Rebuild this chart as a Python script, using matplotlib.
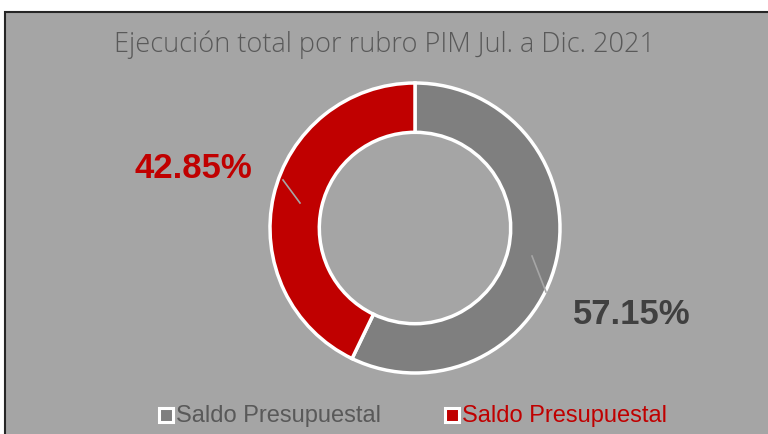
import matplotlib.pyplot as plt
from matplotlib.patches import Rectangle
import numpy as np

categories = ["Saldo Presupuestal", "Saldo Presupuestal"]
values = [57.15, 42.85]
labels = ["57.15%", "42.85%"]
colors = ["#7F7F7F", "#C00000"]
text_colors = ["#404040", "#C00000"]
legend_text_colors = ["#595959", "#C00000"]
title = "Ejecución total por rubro PIM Jul. a Dic. 2021"

W, H = 768, 434
fig = plt.figure(figsize=(W/100, H/100), dpi=100)
fig.patch.set_facecolor("white")

# grey frame
bg = fig.add_axes([0, 0, 1, 1])
bg.set_xlim(0, W); bg.set_ylim(H, 0); bg.axis("off")
bg.add_patch(Rectangle((5, 12), W, H, facecolor="#A5A5A5", edgecolor="#262626", linewidth=1.5))

fig.text(385/W, 1 - 45/H, title, ha="center", va="center", fontsize=19.5,
         color="#595959", family="Open Sans", fontweight="light")

cx, cy, R = 415, 228, 145
ax = fig.add_axes([(cx - R)/W, 1 - (cy + R)/H, 2*R/W, 2*R/H])
ax.set_aspect("equal")
wedges, _ = ax.pie(values, colors=colors, startangle=90, counterclock=False,
                   radius=1.0, wedgeprops=dict(width=0.34, edgecolor="white", linewidth=2.5))
ax.set_xlim(-1, 1); ax.set_ylim(-1, 1)

# overlay for leader lines
top = fig.add_axes([0, 0, 1, 1])
top.set_xlim(0, W); top.set_ylim(H, 0); top.axis("off")
top.patch.set_alpha(0)
top.plot([283, 300], [180, 203], color="#A6A6A6", lw=1.2)
top.plot([532, 546], [256, 292], color="#A6A6A6", lw=1.2)

def to_fig(px, py):
    return px/W, 1 - py/H

font = ["Liberation Sans", "DejaVu Sans"]
fig.text(*to_fig(632, 314), labels[0], ha="center", va="center", fontsize=25,
         fontweight="bold", color=text_colors[0], family=font)
fig.text(*to_fig(193, 168), labels[1], ha="center", va="center", fontsize=25,
         fontweight="bold", color=text_colors[1], family=font)

# legend
leg_y = 415
for mx, tx, c, tc, lab in [(166, 176, colors[0], legend_text_colors[0], categories[0]),
                           (452, 462, colors[1], legend_text_colors[1], categories[1])]:
    top.add_patch(Rectangle((mx - 7, leg_y - 7), 14, 14, facecolor=c, edgecolor="white", linewidth=2.2))
    fig.text(*to_fig(tx, leg_y + 1), lab, ha="left", va="center", fontsize=17,
             color=tc, family=font)

fig.savefig("out.png", dpi=100)
